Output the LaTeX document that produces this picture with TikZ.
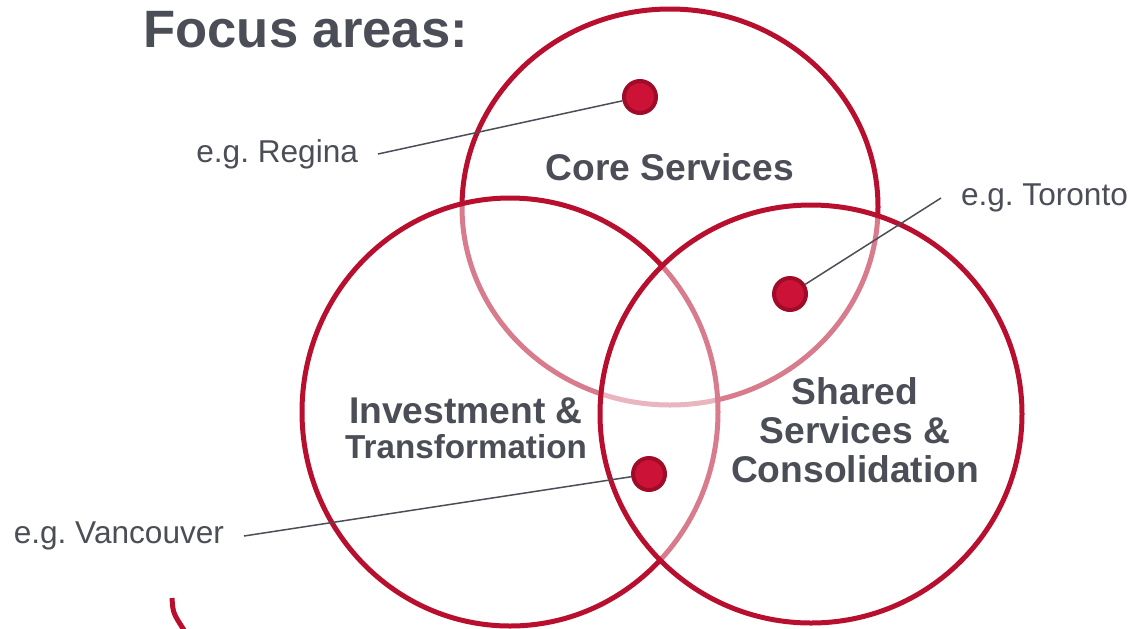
\documentclass[tikz,border=0pt]{standalone}
\usepackage{fontspec}
\setmainfont{Liberation Sans}
\usepackage{tikz}
\usetikzlibrary{positioning}
\definecolor{ringred}{HTML}{B80F2F}
\definecolor{dotred}{HTML}{CC1236}
\definecolor{dotrim}{HTML}{A00C28}
\definecolor{slate}{HTML}{4B4E56}
\frenchspacing

\begin{document}
\begin{tikzpicture}[x=0.5pt, y=-0.5pt,
		ring/.style={draw=ringred, line width=2.5pt, fill=white, fill opacity=0.45},
		area/.style={font=\bfseries\fontsize{18.6}{19.5}\selectfont, text=slate, align=center},
		eg/.style={font=\fontsize{15.8}{19}\selectfont, text=slate, inner sep=0pt, outer xsep=10pt},
		spot/.style={circle, draw=dotrim, fill=dotred, line width=2pt, minimum size=16pt, inner sep=0pt},
		leader/.style={draw=slate, line width=0.75pt}]
		\useasboundingbox (0,0) rectangle (1130,628);
		
		\draw[ring] (670,207) ellipse [x radius=208, y radius=198];
		\draw[ring] (510,412) ellipse [x radius=208, y radius=214];
		\draw[ring] (811,414) ellipse [x radius=211, y radius=209];
		\draw[draw=ringred, line width=2.5pt] (172,598) .. controls (173,613) .. (184,630);
		
		\node[anchor=base west, inner sep=0pt, font=\bfseries\fontsize{26.3}{30}\selectfont, text=slate] (title) at (143,47) {Focus areas:};
		\node[area] (core) at (670,167) {Core Services};
		\node[area] (invest) at (466,428) {Investment \&\\[-2pt] {\fontsize{16.6}{17}\selectfont Transformation}};
		\node[area] (shared) at (855,430) {Shared\\ Services \&\\ Consolidation};
		
		\node[eg, anchor=east] (lblRegina) at (378,154) {e.g. Regina};
		\node[eg, anchor=west] (lblToronto) at (941,198) {e.g. Toronto};
		\node[eg, anchor=east] (lblVancouver) at (244,536) {e.g. Vancouver};
		
		\node[spot] (dotRegina) at (640,97) {};
		\node[spot] (dotToronto) at (790,294) {};
		\node[spot] (dotVancouver) at (649,474) {};
		
		\path (lblRegina.east) edge[leader] (dotRegina);
		\path (lblToronto.west) edge[leader] (dotToronto);
		\path (lblVancouver.east) edge[leader] (dotVancouver);
		
	\end{tikzpicture}
\end{document}
